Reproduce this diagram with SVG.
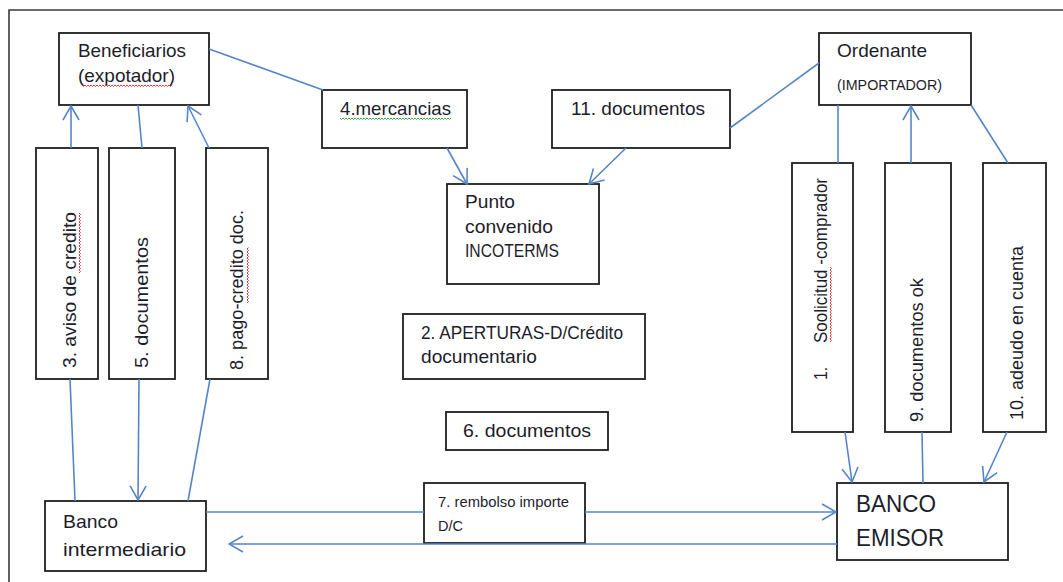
<svg xmlns="http://www.w3.org/2000/svg" width="1063" height="582" viewBox="0 0 1063 582">
  <style>
    .box { fill: #ffffff; stroke: #1e1e1e; stroke-width: 1.8; }
    .frame { fill: none; stroke: #3a3a3a; stroke-width: 1.6; }
    .lbl { font-family: "Liberation Sans", Arial, sans-serif; font-size: 19px; fill: #1d1d2b; }
    .sm { font-size: 15px; }
    .xs { font-size: 14px; }
    .big { font-size: 23px; }
    .conn line { stroke: #5585c8; stroke-width: 1.6; fill: none; }
    .arr { marker-end: url(#open); }
    .spell-r { fill: none; stroke: #e0383b; stroke-width: 1; }
    .spell-g { fill: none; stroke: #3aa845; stroke-width: 1; }
  </style>
  <defs>
    <marker id="open" viewBox="0 0 16 18" refX="15" refY="9" markerWidth="16" markerHeight="18" markerUnits="userSpaceOnUse" orient="auto">
      <path d="M1,1 L15,9 L1,17" fill="none" stroke="#5585c8" stroke-width="1.6"/>
    </marker>
  </defs>

  <rect width="1063" height="582" fill="#ffffff"/>

  <!-- outer frame (top and left edges) -->
  <path class="frame" d="M9,582 V10 H1063"/>

  <!-- top row -->
  <g id="beneficiarios">
    <rect class="box" x="59" y="33" width="150" height="72"/>
    <text class="lbl" x="78" y="57" textLength="108" lengthAdjust="spacingAndGlyphs">Beneficiarios</text>
    <text class="lbl" x="78" y="82" textLength="97" lengthAdjust="spacingAndGlyphs">(expotador)</text>
    <path class="spell-r" d="M82,85 l1.5,1.5 l1.5,-1.5 l1.5,1.5 l1.5,-1.5 l1.5,1.5 l1.5,-1.5 l1.5,1.5 l1.5,-1.5 l1.5,1.5 l1.5,-1.5 l1.5,1.5 l1.5,-1.5 l1.5,1.5 l1.5,-1.5 l1.5,1.5 l1.5,-1.5 l1.5,1.5 l1.5,-1.5 l1.5,1.5 l1.5,-1.5 l1.5,1.5 l1.5,-1.5 l1.5,1.5 l1.5,-1.5 l1.5,1.5 l1.5,-1.5 l1.5,1.5 l1.5,-1.5 l1.5,1.5 l1.5,-1.5 l1.5,1.5 l1.5,-1.5 l1.5,1.5 l1.5,-1.5 l1.5,1.5 l1.5,-1.5 l1.5,1.5 l1.5,-1.5 l1.5,1.5 l1.5,-1.5 l1.5,1.5 l1.5,-1.5 l1.5,1.5 l1.5,-1.5 l1.5,1.5 l1.5,-1.5 l1.5,1.5 l1.5,-1.5 l1.5,1.5 l1.5,-1.5 l1.5,1.5 l1.5,-1.5 l1.5,1.5 l1.5,-1.5 l1.5,1.5 l1.5,-1.5 l1.5,1.5 l1.5,-1.5 l1.5,1.5 l1.5,-1.5"/>
  </g>

  <g id="mercancias">
    <rect class="box" x="322" y="90" width="145" height="58"/>
    <text class="lbl" x="340" y="115" textLength="111" lengthAdjust="spacingAndGlyphs">4.mercancias</text>
    <path class="spell-g" d="M340,118 l1.5,1.5 l1.5,-1.5 l1.5,1.5 l1.5,-1.5 l1.5,1.5 l1.5,-1.5 l1.5,1.5 l1.5,-1.5 l1.5,1.5 l1.5,-1.5 l1.5,1.5 l1.5,-1.5 l1.5,1.5 l1.5,-1.5 l1.5,1.5 l1.5,-1.5 l1.5,1.5 l1.5,-1.5 l1.5,1.5 l1.5,-1.5 l1.5,1.5 l1.5,-1.5 l1.5,1.5 l1.5,-1.5 l1.5,1.5 l1.5,-1.5 l1.5,1.5 l1.5,-1.5 l1.5,1.5 l1.5,-1.5 l1.5,1.5 l1.5,-1.5 l1.5,1.5 l1.5,-1.5 l1.5,1.5 l1.5,-1.5 l1.5,1.5 l1.5,-1.5 l1.5,1.5 l1.5,-1.5 l1.5,1.5 l1.5,-1.5 l1.5,1.5 l1.5,-1.5 l1.5,1.5 l1.5,-1.5 l1.5,1.5 l1.5,-1.5 l1.5,1.5 l1.5,-1.5 l1.5,1.5 l1.5,-1.5 l1.5,1.5 l1.5,-1.5 l1.5,1.5 l1.5,-1.5 l1.5,1.5 l1.5,-1.5 l1.5,1.5 l1.5,-1.5 l1.5,1.5 l1.5,-1.5 l1.5,1.5 l1.5,-1.5 l1.5,1.5 l1.5,-1.5 l1.5,1.5 l1.5,-1.5 l1.5,1.5 l1.5,-1.5 l1.5,1.5 l1.5,-1.5 l1.5,1.5 l1.5,-1.5"/>
  </g>

  <g id="documentos-11">
    <rect class="box" x="552" y="90" width="178" height="58"/>
    <text class="lbl" x="571" y="115" textLength="134" lengthAdjust="spacingAndGlyphs">11. documentos</text>
  </g>

  <g id="ordenante">
    <rect class="box" x="819" y="33" width="152" height="72"/>
    <text class="lbl" x="837" y="57" textLength="90" lengthAdjust="spacingAndGlyphs">Ordenante</text>
    <text class="lbl xs" x="837" y="90" textLength="105" lengthAdjust="spacingAndGlyphs">(IMPORTADOR)</text>
  </g>

  <g id="punto-convenido">
    <rect class="box" x="447" y="184" width="152" height="100"/>
    <text class="lbl" x="465" y="208" textLength="50" lengthAdjust="spacingAndGlyphs">Punto</text>
    <text class="lbl" x="465" y="233" textLength="88" lengthAdjust="spacingAndGlyphs">convenido</text>
    <text class="lbl" x="465" y="257" textLength="94" lengthAdjust="spacingAndGlyphs">INCOTERMS</text>
  </g>

  <!-- left vertical steps -->
  <g id="aviso-credito">
    <rect class="box" x="36" y="148" width="62" height="231"/>
    <text class="lbl" transform="translate(76,368) rotate(-90)" textLength="156" lengthAdjust="spacingAndGlyphs">3. aviso de credito</text>
    <path class="spell-r" d="M79,273 l1.5,-1.5 l-1.5,-1.5 l1.5,-1.5 l-1.5,-1.5 l1.5,-1.5 l-1.5,-1.5 l1.5,-1.5 l-1.5,-1.5 l1.5,-1.5 l-1.5,-1.5 l1.5,-1.5 l-1.5,-1.5 l1.5,-1.5 l-1.5,-1.5 l1.5,-1.5 l-1.5,-1.5 l1.5,-1.5 l-1.5,-1.5 l1.5,-1.5 l-1.5,-1.5 l1.5,-1.5 l-1.5,-1.5 l1.5,-1.5 l-1.5,-1.5 l1.5,-1.5 l-1.5,-1.5 l1.5,-1.5 l-1.5,-1.5 l1.5,-1.5 l-1.5,-1.5 l1.5,-1.5 l-1.5,-1.5 l1.5,-1.5 l-1.5,-1.5 l1.5,-1.5 l-1.5,-1.5 l1.5,-1.5 l-1.5,-1.5 l1.5,-1.5 l-1.5,-1.5"/>
  </g>

  <g id="documentos-5">
    <rect class="box" x="109" y="148" width="66" height="231"/>
    <text class="lbl" transform="translate(148,368) rotate(-90)" textLength="131" lengthAdjust="spacingAndGlyphs">5. documentos</text>
  </g>

  <g id="pago-credito">
    <rect class="box" x="206" y="148" width="62" height="231"/>
    <text class="lbl" transform="translate(243,370) rotate(-90)" textLength="160" lengthAdjust="spacingAndGlyphs">8. pago-credito doc.</text>
    <path class="spell-r" d="M247,303 l1.5,-1.5 l-1.5,-1.5 l1.5,-1.5 l-1.5,-1.5 l1.5,-1.5 l-1.5,-1.5 l1.5,-1.5 l-1.5,-1.5 l1.5,-1.5 l-1.5,-1.5 l1.5,-1.5 l-1.5,-1.5 l1.5,-1.5 l-1.5,-1.5 l1.5,-1.5 l-1.5,-1.5 l1.5,-1.5 l-1.5,-1.5 l1.5,-1.5 l-1.5,-1.5 l1.5,-1.5 l-1.5,-1.5 l1.5,-1.5 l-1.5,-1.5 l1.5,-1.5 l-1.5,-1.5 l1.5,-1.5 l-1.5,-1.5 l1.5,-1.5 l-1.5,-1.5 l1.5,-1.5 l-1.5,-1.5 l1.5,-1.5 l-1.5,-1.5 l1.5,-1.5 l-1.5,-1.5 l1.5,-1.5"/>
  </g>

  <!-- centre notes -->
  <g id="aperturas">
    <rect class="box" x="403" y="314" width="242" height="65"/>
    <text class="lbl" x="421" y="339" textLength="202" lengthAdjust="spacingAndGlyphs">2. APERTURAS-D/Crédito</text>
    <text class="lbl" x="421" y="363" textLength="116" lengthAdjust="spacingAndGlyphs">documentario</text>
  </g>

  <g id="documentos-6">
    <rect class="box" x="446" y="412" width="162" height="38"/>
    <text class="lbl" x="463" y="437" textLength="128" lengthAdjust="spacingAndGlyphs">6. documentos</text>
  </g>

  <!-- right vertical steps -->
  <g id="solicitud">
    <rect class="box" x="792" y="163" width="61" height="269"/>
    <text class="lbl" transform="translate(827,380) rotate(-90)" textLength="13" lengthAdjust="spacingAndGlyphs">1.</text>
    <text class="lbl" transform="translate(827,343) rotate(-90)" textLength="165" lengthAdjust="spacingAndGlyphs">Soolicitud -comprador</text>
    <path class="spell-r" d="M830,342 l1.5,-1.5 l-1.5,-1.5 l1.5,-1.5 l-1.5,-1.5 l1.5,-1.5 l-1.5,-1.5 l1.5,-1.5 l-1.5,-1.5 l1.5,-1.5 l-1.5,-1.5 l1.5,-1.5 l-1.5,-1.5 l1.5,-1.5 l-1.5,-1.5 l1.5,-1.5 l-1.5,-1.5 l1.5,-1.5 l-1.5,-1.5 l1.5,-1.5 l-1.5,-1.5 l1.5,-1.5 l-1.5,-1.5 l1.5,-1.5 l-1.5,-1.5 l1.5,-1.5 l-1.5,-1.5 l1.5,-1.5 l-1.5,-1.5 l1.5,-1.5 l-1.5,-1.5 l1.5,-1.5 l-1.5,-1.5 l1.5,-1.5 l-1.5,-1.5 l1.5,-1.5 l-1.5,-1.5 l1.5,-1.5 l-1.5,-1.5 l1.5,-1.5 l-1.5,-1.5 l1.5,-1.5 l-1.5,-1.5 l1.5,-1.5 l-1.5,-1.5 l1.5,-1.5 l-1.5,-1.5 l1.5,-1.5 l-1.5,-1.5 l1.5,-1.5 l-1.5,-1.5"/>
  </g>

  <g id="documentos-ok">
    <rect class="box" x="885" y="163" width="66" height="269"/>
    <text class="lbl" transform="translate(923,422) rotate(-90)" textLength="144" lengthAdjust="spacingAndGlyphs">9. documentos ok</text>
  </g>

  <g id="adeudo">
    <rect class="box" x="983" y="163" width="63" height="269"/>
    <text class="lbl" transform="translate(1023,420) rotate(-90)" textLength="174" lengthAdjust="spacingAndGlyphs">10. adeudo en cuenta</text>
  </g>

  <!-- bottom row -->
  <g id="banco-intermediario">
    <rect class="box" x="45" y="501" width="161" height="70"/>
    <text class="lbl" x="63" y="528" textLength="55" lengthAdjust="spacingAndGlyphs">Banco</text>
    <text class="lbl" x="63" y="556" textLength="123" lengthAdjust="spacingAndGlyphs">intermediario</text>
  </g>

  <g id="rembolso">
    <rect class="box" x="424" y="483" width="161" height="60"/>
    <text class="lbl sm" x="438" y="507" textLength="131" lengthAdjust="spacingAndGlyphs">7. rembolso importe</text>
    <text class="lbl sm" x="438" y="531" textLength="25" lengthAdjust="spacingAndGlyphs">D/C</text>
  </g>

  <g id="banco-emisor">
    <rect class="box" x="837" y="483" width="171" height="77"/>
    <text class="lbl big" x="856" y="512" textLength="80" lengthAdjust="spacingAndGlyphs">BANCO</text>
    <text class="lbl big" x="856" y="546" textLength="88" lengthAdjust="spacingAndGlyphs">EMISOR</text>
  </g>

  <!-- connectors -->
  <g id="connectors" class="conn">
    <line x1="209" y1="49" x2="323" y2="90"/>
    <line class="arr" x1="447" y1="148" x2="467" y2="184"/>
    <line x1="819" y1="63" x2="730" y2="128"/>
    <line class="arr" x1="626" y1="148" x2="589" y2="184"/>

    <line x1="838" y1="105" x2="838" y2="163"/>
    <line class="arr" x1="845" y1="432" x2="852" y2="482"/>
    <line x1="923" y1="483" x2="922" y2="432"/>
    <line class="arr" x1="911" y1="163" x2="911" y2="106"/>
    <line x1="971" y1="105" x2="1008" y2="163"/>
    <line class="arr" x1="1007" y1="432" x2="984" y2="482"/>

    <line x1="75" y1="501" x2="70" y2="379"/>
    <line class="arr" x1="71" y1="148" x2="71" y2="106"/>
    <line x1="138" y1="105" x2="142" y2="148"/>
    <line class="arr" x1="139" y1="379" x2="138" y2="500"/>
    <line x1="188" y1="501" x2="210" y2="379"/>
    <line class="arr" x1="209" y1="148" x2="188" y2="106"/>

    <line x1="206" y1="512" x2="424" y2="512"/>
    <line class="arr" x1="585" y1="512" x2="836" y2="512"/>
    <line class="arr" x1="837" y1="544" x2="229" y2="544"/>
  </g>
</svg>
